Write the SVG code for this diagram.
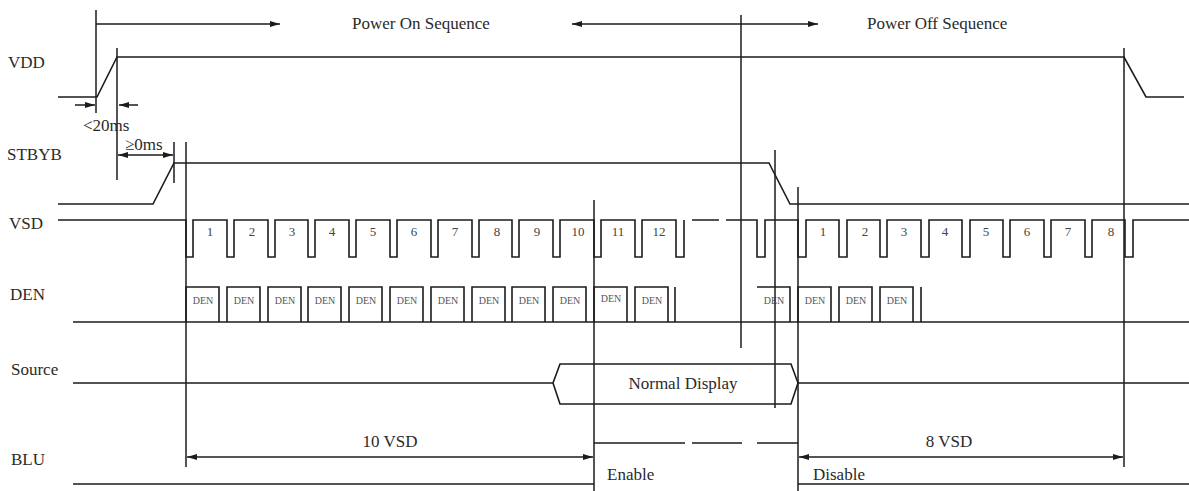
<svg xmlns="http://www.w3.org/2000/svg" width="1189" height="491" viewBox="0 0 1189 491">
<style>
.w{fill:none;stroke:#1c1c1c;stroke-width:1.6;stroke-linejoin:miter}
.g{fill:none;stroke:#1c1c1c;stroke-width:1.5}
.t{font-family:"Liberation Serif","Times New Roman",serif;font-size:17px;fill:#2a2a2a}
.n{font-family:"Liberation Serif","Times New Roman",serif;font-size:13px;fill:#444;text-anchor:middle}
.d{font-family:"Liberation Serif","Times New Roman",serif;font-size:10px;fill:#555;text-anchor:middle}
.a{fill:none;stroke:#1c1c1c;stroke-width:1.5;marker-end:url(#ah)}
.b{fill:none;stroke:#1c1c1c;stroke-width:1.5;marker-start:url(#ah);marker-end:url(#ah)}
</style>
<defs>
<marker id="ah" viewBox="0 0 10 6" refX="10" refY="3" markerWidth="10" markerHeight="6" markerUnits="userSpaceOnUse" orient="auto-start-reverse">
<path d="M0,0 L10,3 L0,6 z" fill="#1c1c1c"/>
</marker>
</defs>
<rect width="1189" height="491" fill="#fff"/>

<g id="header">
<text class="t" x="352" y="29">Power On Sequence</text>
<text class="t" x="867" y="29">Power Off Sequence</text>
</g>

<g id="vdd">
<text class="t" x="8" y="68">VDD</text>
<path class="w" d="M58,97 H97 L117,57 H1124 L1146,97 H1184"/>
</g>

<g id="stbyb">
<text class="t" x="7" y="160">STBYB</text>
<path class="w" d="M58,204 H153 L174,163 H769 L790,204 H1189"/>
</g>

<g id="vsd">
<text class="t" x="9" y="229">VSD</text>
<path class="w" d="M58,220 H186 V257 H193 V220 H227 V257 H234 V220 H268 V257 H275 V220 H308 V257 H315 V220 H349 V257 H356 V220 H390 V257 H397 V220 H431 V257 H438 V220 H472 V257 H479 V220 H512 V257 H519 V220 H553 V257 H560 V220 H594 V257 H601 V220 H635 V257 H642 V220 H676 V257 H684 V220"/>
<path class="w" d="M692,220 H719 M726,220 H757 V257 H765 V220 H798 V257 H806 V220 H839 V257 H847 V220 H880 V257 H887 V220 H921 V257 H929 V220 H962 V257 H970 V220 H1003 V257 H1010 V220 H1044 V257 H1051 V220 H1085 V257 H1092 V220 H1125 V257 H1133 V220 H1189"/>
<text class="n" x="210" y="236">1</text>
<text class="n" x="252" y="236">2</text>
<text class="n" x="292" y="236">3</text>
<text class="n" x="332" y="236">4</text>
<text class="n" x="373" y="236">5</text>
<text class="n" x="414" y="236">6</text>
<text class="n" x="455" y="236">7</text>
<text class="n" x="497" y="236">8</text>
<text class="n" x="537" y="236">9</text>
<text class="n" x="578" y="236">10</text>
<text class="n" x="618" y="236">11</text>
<text class="n" x="659" y="236">12</text>
<text class="n" x="823" y="236">1</text>
<text class="n" x="865" y="236">2</text>
<text class="n" x="904" y="236">3</text>
<text class="n" x="945" y="236">4</text>
<text class="n" x="986" y="236">5</text>
<text class="n" x="1027" y="236">6</text>
<text class="n" x="1068" y="236">7</text>
<text class="n" x="1111" y="236">8</text>
</g>

<g id="den">
<text class="t" x="10" y="300">DEN</text>
<path class="w" d="M73,322 H1189"/>
<path class="w" d="M186,322 V287 H219 V322 M227,322 V287 H260 V322 M268,322 V287 H301 V322 M308,322 V287 H341 V322 M349,322 V287 H382 V322 M390,322 V287 H423 V322 M431,322 V287 H464 V322 M472,322 V287 H505 V322 M512,322 V287 H545 V322 M553,322 V287 H586 V322 M594,322 V287 H627 V322 M635,322 V287 H668 V322 M675,322 V287"/>
<path class="w" d="M757,287 H790 V322 M798,322 V287 H831 V322 M839,322 V287 H872 V322 M880,322 V287 H913 V322 M921,322 V287"/>
<text class="d" x="203" y="304">DEN</text>
<text class="d" x="244" y="304">DEN</text>
<text class="d" x="285" y="304">DEN</text>
<text class="d" x="325" y="304">DEN</text>
<text class="d" x="366" y="304">DEN</text>
<text class="d" x="407" y="304">DEN</text>
<text class="d" x="448" y="304">DEN</text>
<text class="d" x="489" y="304">DEN</text>
<text class="d" x="529" y="304">DEN</text>
<text class="d" x="570" y="304">DEN</text>
<text class="d" x="611" y="302">DEN</text>
<text class="d" x="652" y="304">DEN</text>
<text class="d" x="774" y="304">DEN</text>
<text class="d" x="815" y="304">DEN</text>
<text class="d" x="856" y="304">DEN</text>
<text class="d" x="897" y="304">DEN</text>
</g>

<g id="source">
<text class="t" x="11" y="375">Source</text>
<path class="w" d="M73,383 H553 M798,383 H1189"/>
<polygon class="w" points="553,383 560,364 791,364 798,383 791,404 560,404"/>
<text class="t" x="683" y="389" text-anchor="middle">Normal Display</text>
</g>

<g id="blu">
<text class="t" x="11" y="465">BLU</text>
<path class="w" d="M73,484 H594 M798,484 H1189"/>
<path class="w" d="M594,443 H685 M692,443 H742 M757,443 H798"/>
<text class="t" x="607" y="480">Enable</text>
<text class="t" x="813" y="480">Disable</text>
</g>

<g id="connectors">
<path class="g" d="M96,10 V113 M117,48 V180 M174,142 V183 M186,142 V467 M594,200 V491 M741,15 V348 M775,150 V408 M798,187 V491 M1124,48 V467"/>
<line class="a" x1="96" y1="24" x2="280" y2="24"/>
<line class="b" x1="572" y1="24" x2="818" y2="24"/>
<line class="a" x1="75" y1="105" x2="95" y2="105"/>
<line class="a" x1="138" y1="105" x2="119" y2="105"/>
<line class="b" x1="118" y1="155" x2="173" y2="155"/>
<line class="b" x1="187" y1="457" x2="593" y2="457"/>
<line class="b" x1="799" y1="457" x2="1123" y2="457"/>
<text class="t" x="83" y="131">&lt;20ms</text>
<text class="t" x="125" y="150">≥0ms</text>
<text class="t" x="390" y="447" text-anchor="middle">10 VSD</text>
<text class="t" x="949" y="447" text-anchor="middle">8 VSD</text>
</g>
</svg>
